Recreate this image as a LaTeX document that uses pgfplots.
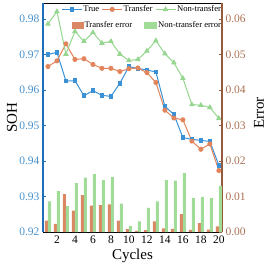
\documentclass[border=0pt]{standalone}
\usepackage{fontspec}
\setmainfont{Liberation Serif}
\usepackage{pgfplots}
\pgfplotsset{compat=1.18}
\definecolor{cTrue}{RGB}{58,145,214}
\definecolor{cTr}{RGB}{226,132,92}
\definecolor{cNon}{RGB}{150,214,144}
\definecolor{cTrBar}{RGB}{218,135,100}
\definecolor{cNonBar}{RGB}{160,220,152}
\definecolor{cLeft}{RGB}{30,110,185}
\definecolor{cLeftTxt}{RGB}{70,145,205}
\definecolor{cRight}{RGB}{150,90,60}
\definecolor{cRightTxt}{RGB}{170,112,82}
\begin{document}
\begin{tikzpicture}
\pgfplotsset{
  common/.style={scale only axis, width=179pt, height=229pt, xmin=0.45, xmax=20.35,
    /pgf/number format/assume math mode=true,
    scaled y ticks=false,
    tick label style={font=\fontsize{11.5}{12}\selectfont},
    major tick length=3pt,
    legend style={draw=none, fill=none, inner sep=0pt, outer sep=0pt,
      font=\fontsize{8.6}{9}\selectfont,
      nodes={inner sep=1pt}},
  },
  lineleg/.style={legend image code/.code={\draw[mark repeat=2,mark phase=2,##1] plot coordinates {(0pt,0pt) (10pt,0pt) (20pt,0pt)};}},
}
% SOH axis (lines)
\begin{axis}[common,
  axis x line*=box, axis y line*=left,
  xtick={2,4,...,20}, xtick pos=bottom,
  x axis line style={black, line width=0.6pt},
  y axis line style={cLeft, line width=1.2pt},
  ytick style={cLeft},
  ymin=0.92, ymax=0.9845,
  ytick={0.92,0.93,0.94,0.95,0.96,0.97,0.98},
  yticklabel style={/pgf/number format/fixed, /pgf/number format/fixed zerofill, /pgf/number format/precision=2, color=cLeftTxt},
  xlabel={Cycles}, ylabel={SOH},
  every axis x label/.style={at={(axis description cs:0.5,-0.118)}, anchor=base, font=\fontsize{15}{16}\selectfont},
  every axis y label/.style={at={(axis description cs:-0.173,0.5)}, anchor=center, rotate=90, font=\fontsize{15}{16}\selectfont},
  legend columns=3,
  legend style={at={(axis description cs:1,0.993)}, anchor=north east,
    /tikz/every even column/.append style={column sep=1.5pt}},
]
\addplot[cTrue, line width=1pt, mark=square*, mark size=1.8pt, lineleg] coordinates {
(1,0.9700) (2,0.9706) (3,0.9625) (4,0.9626) (5,0.9584) (6,0.9598) (7,0.9585) (8,0.9582) (9,0.9619) (10,0.9666)
(11,0.9661) (12,0.9656) (13,0.9651) (14,0.9554) (15,0.9531) (16,0.9466) (17,0.9461) (18,0.9458) (19,0.9455) (20,0.9388)};
\addlegendentry{True}
\addplot[cTr, line width=1pt, mark=*, mark size=2pt, lineleg] coordinates {
(1,0.9666) (2,0.9682) (3,0.9730) (4,0.9686) (5,0.9688) (6,0.9672) (7,0.9661) (8,0.9661) (9,0.9652) (10,0.9660)
(11,0.9662) (12,0.9649) (13,0.9621) (14,0.9543) (15,0.9521) (16,0.9516) (17,0.9456) (18,0.9433) (19,0.9448) (20,0.9373)};
\addlegendentry{Transfer}
\addplot[cNon, line width=1pt, mark=triangle*, mark size=2.3pt, lineleg] coordinates {
(1,0.9786) (2,0.9821) (3,0.9701) (4,0.9765) (5,0.9737) (6,0.9762) (7,0.9732) (8,0.9737) (9,0.9701) (10,0.9683)
(11,0.9686) (12,0.9710) (13,0.9739) (14,0.9702) (15,0.9677) (16,0.9633) (17,0.9559) (18,0.9557) (19,0.9551) (20,0.9520)};
\addlegendentry{Non-transfer}
\end{axis}
% Error axis (bars)
\begin{axis}[common,
  axis y line*=right, axis x line=none,
  ymin=0, ymax=0.0645,
  ytick={0,0.01,0.02,0.03,0.04,0.05,0.06},
  yticklabel style={/pgf/number format/fixed, /pgf/number format/fixed zerofill, /pgf/number format/precision=2, color=cRightTxt},
  y axis line style={cRight, line width=1.2pt},
  ytick style={cRight},
  ylabel={Error},
  every axis y label/.style={at={(axis description cs:1.207,0.52)}, anchor=center, rotate=90, font=\fontsize{15}{16}\selectfont},
  legend columns=2,
  legend style={at={(axis description cs:1,0.922)}, anchor=north east,
    /tikz/every even column/.append style={column sep=11pt}},
]
\addplot[ybar, bar width=0.34, bar shift=-0.17, fill=cTrBar, draw=none,
  legend image code/.code={\fill[cTrBar] (0pt,-3.5pt) rectangle (12pt,3.5pt);}] coordinates {
(1,0.0032) (2,0.0023) (3,0.0107) (4,0.0060) (5,0.0104) (6,0.0074) (7,0.0076) (8,0.0078) (9,0.0032) (10,0.0008)
(11,0.0003) (12,0.0005) (13,0.0030) (14,0.0010) (15,0.0009) (16,0.0050) (17,0.0006) (18,0.0025) (19,0.0007) (20,0.0016)};
\addlegendentry{Transfer error}
\addplot[ybar, bar width=0.34, bar shift=0.17, fill=cNonBar, draw=none,
  legend image code/.code={\fill[cNonBar] (0pt,-3.5pt) rectangle (13pt,3.5pt);}] coordinates {
(1,0.0086) (2,0.0115) (3,0.0073) (4,0.0138) (5,0.0153) (6,0.0163) (7,0.0146) (8,0.0155) (9,0.0080) (10,0.0017)
(11,0.0030) (12,0.0068) (13,0.0086) (14,0.0146) (15,0.0145) (16,0.0166) (17,0.0096) (18,0.0099) (19,0.0096) (20,0.0130)};
\addlegendentry{Non-transfer error}
\end{axis}
\pgfresetboundingbox
\path (-43pt,-34pt) rectangle (223pt,232pt);
\end{tikzpicture}
\end{document}
